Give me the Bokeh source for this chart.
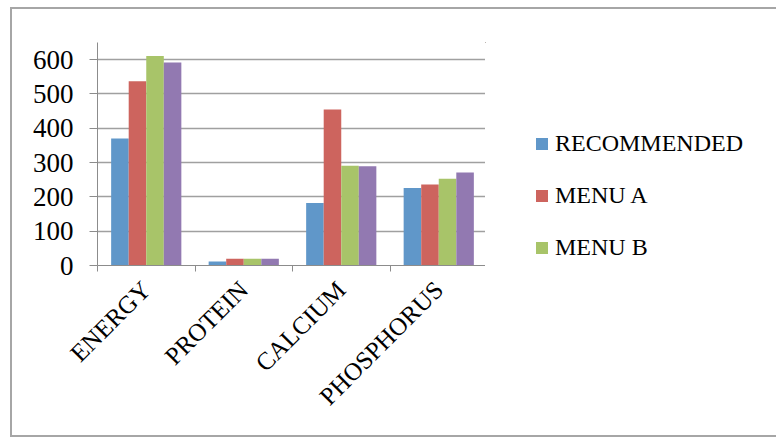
import numpy as np
from bokeh.plotting import figure
from bokeh.layouts import row
from bokeh.models import (ColumnDataSource, Range1d, FixedTicker, Legend, LegendItem,
                          LinearAxis)
from bokeh.embed import file_html
from bokeh.resources import INLINE

# Nutrient content: recommended intake versus three menus
categories = ["ENERGY", "PROTEIN", "CALCIUM", "PHOSPHORUS"]
series_names = ["RECOMMENDED", "MENU A", "MENU B", "MENU C"]
recommended = [370, 12, 182, 226]
menu_a = [537, 20, 455, 236]
menu_b = [611, 20, 291, 253]
menu_c = [592, 20, 289, 271]
y_ticks = [0, 100, 200, 300, 400, 500, 600]

colors = ["#6097C9", "#CD645E", "#A8C469", "#9279B1"]
FONT = "Liberation Serif"
BORDER = "2px solid #a6a6a6"

series_values = [recommended, menu_a, menu_b, menu_c]
centers = np.arange(len(categories)) + 0.5
bar_w = 0.18
offsets = [(-1.5 + i) * bar_w for i in range(len(series_names))]

# ---- main chart -------------------------------------------------------------
p = figure(width=475, height=430, output_backend="svg", toolbar_location=None,
           x_range=Range1d(0, len(categories)), y_range=Range1d(0, 650),
           min_border_left=85, min_border_top=33, min_border_right=0,
           min_border_bottom=174)
p.xaxis.visible = False
p.outline_line_color = None
p.background_fill_color = "white"
p.border_fill_color = "white"
p.margin = (7, 0, 0, 10)
p.styles = {"border-left": BORDER, "border-top": BORDER, "border-bottom": BORDER}

sources = []
for vals, off in zip(series_values, offsets):
    sources.append(ColumnDataSource(dict(x=centers + off, top=vals)))

for src, col in zip(sources, colors):
    p.vbar(x="x", top="top", width=bar_w, bottom=0, source=src,
           fill_color=col, line_color=None)

# category axis: labels centred, tick marks at category boundaries
xaxis = LinearAxis(ticker=FixedTicker(ticks=list(centers),
                                      minor_ticks=list(range(len(categories) + 1))))
xaxis.major_label_overrides = {float(c): lab for c, lab in zip(centers, categories)}
xaxis.major_tick_line_color = None
xaxis.minor_tick_in = 0
xaxis.minor_tick_out = 6
xaxis.minor_tick_line_color = "#8c8c8c"
xaxis.minor_tick_line_width = 1
xaxis.axis_line_color = "#8c8c8c"
xaxis.major_label_orientation = np.pi / 4
xaxis.major_label_standoff = 14
xaxis.major_label_text_font = FONT
xaxis.major_label_text_font_size = "25px"
xaxis.major_label_text_color = "black"
p.add_layout(xaxis, "below")

yaxis = p.yaxis[0]
yaxis.ticker = FixedTicker(ticks=y_ticks)
yaxis.minor_tick_line_color = None
yaxis.major_tick_in = 0
yaxis.major_tick_out = 8
yaxis.major_tick_line_color = "#8c8c8c"
yaxis.axis_line_color = "#8c8c8c"
yaxis.major_label_standoff = 16
yaxis.major_label_text_font = FONT
yaxis.major_label_text_font_size = "27px"
yaxis.major_label_text_color = "black"

p.xgrid.visible = False
p.ygrid.ticker = FixedTicker(ticks=y_ticks)
p.ygrid.grid_line_color = "#a0a0a0"
p.ygrid.grid_line_width = 1.5

# ---- legend panel -----------------------------------------------------------
# a companion canvas carries the legend; its bar renderers lie outside its view
lp = figure(width=291, height=430, output_backend="svg", toolbar_location=None,
            x_range=Range1d(10, 11), y_range=Range1d(-20, -10),
            x_axis_location=None, y_axis_location=None, min_border=0)
lp.outline_line_color = None
lp.background_fill_color = "white"
lp.border_fill_color = "white"
lp.grid.visible = False
lp.margin = (7, 0, 0, 0)
lp.styles = {"border-top": BORDER, "border-bottom": BORDER}

legend_items = []
for name, src, col in zip(series_names, sources, colors):
    r = lp.vbar(x="x", top="top", width=bar_w, bottom=0, source=src,
                fill_color=col, line_color=None)
    legend_items.append(LegendItem(label=name, renderers=[r]))

legend = Legend(items=legend_items, location=(49, -48), orientation="vertical",
                glyph_width=15, glyph_height=15, label_height=15,
                spacing=25, padding=0, margin=0, label_standoff=6,
                border_line_color=None, background_fill_alpha=0,
                label_text_font=FONT, label_text_font_size="24px",
                label_text_color="black")
lp.add_layout(legend, "center")

layout = row(p, lp, spacing=0)

open("out.html", "w").write(file_html(layout, INLINE))
